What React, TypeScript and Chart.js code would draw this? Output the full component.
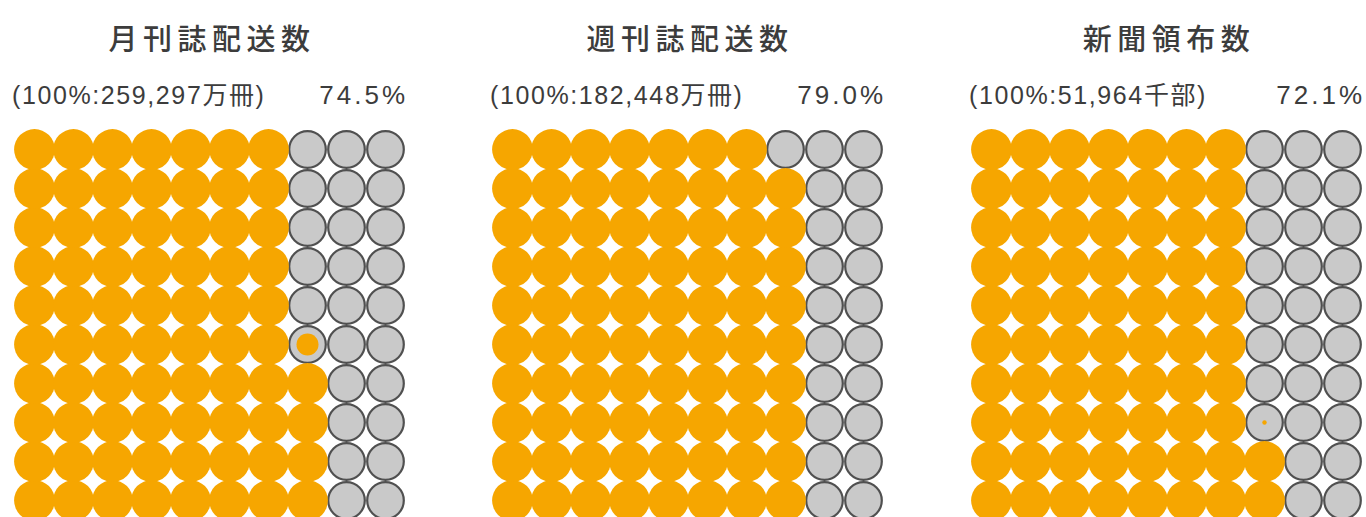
import React, { useEffect, useRef } from "react";
import { Chart, registerables } from "chart.js";

Chart.register(...registerables);

// ---- data ----
const panelTitles = ["月刊誌配送数", "週刊誌配送数", "新聞領布数"];
const totalLabels = ["(100%:259,297万冊)", "(100%:182,448万冊)", "(100%:51,964千部)"];
const shareValues = [74.5, 79.0, 72.1];
const gridColumns = 10;
const gridRows = 10;

// ---- layout / style ----
const panelLefts = [15, 493, 972];
const CELL = 39;
const PAD = 6;
const GRID_TOP = 130;
const ORANGE = "#F6A600";
const GREY = "#C9C9C9";
const GREY_EDGE = "#505050";
const TEXT = "#3c3c3c";

type Pt = { x: number; y: number };

function buildCells(value: number) {
  const full = Math.floor(value);
  const frac = value - full;
  const orange: Pt[] = [];
  const grey: Pt[] = [];
  const partial: Pt[] = [];
  for (let c = 0; c < gridColumns; c++) {
    for (let k = 0; k < gridRows; k++) {
      const idx = c * gridRows + k; // column by column, bottom up
      const p = { x: c, y: gridRows - 1 - k };
      if (idx < full) orange.push(p);
      else {
        grey.push(p);
        if (idx === full && frac > 0.001) partial.push(p);
      }
    }
  }
  return { orange, grey, partial, frac };
}

function Waffle({ value, left }: { value: number; left: number }) {
  const ref = useRef<HTMLCanvasElement | null>(null);
  useEffect(() => {
    if (!ref.current) return;
    const { orange, grey, partial, frac } = buildCells(value);
    const chart = new Chart(ref.current, {
      type: "scatter",
      data: {
        datasets: [
          {
            data: partial,
            order: 0,
            pointRadius: Math.max(1.5, frac * 22),
            backgroundColor: ORANGE,
            borderWidth: 0,
            clip: false as any,
          },
          {
            data: orange,
            order: 1,
            pointRadius: 20.4,
            backgroundColor: ORANGE,
            borderWidth: 0,
            clip: false as any,
          },
          {
            data: grey,
            order: 2,
            pointRadius: 18.3,
            backgroundColor: GREY,
            borderColor: GREY_EDGE,
            borderWidth: 2.2,
            clip: false as any,
          },
        ],
      },
      options: {
        animation: false,
        responsive: false,
        devicePixelRatio: 1,
        events: [],
        layout: { padding: PAD, autoPadding: false },
        plugins: { legend: { display: false }, tooltip: { enabled: false } },
        scales: {
          x: { type: "linear", min: -0.5, max: gridColumns - 0.5, display: false },
          y: { type: "linear", min: -0.5, max: gridRows - 0.5, display: false, reverse: true },
        },
      },
    });
    return () => chart.destroy();
  }, [value]);
  return (
    <canvas
      ref={ref}
      width={gridColumns * CELL + PAD * 2}
      height={gridRows * CELL + PAD * 2}
      style={{ position: "absolute", left: left - PAD, top: GRID_TOP - PAD }}
    />
  );
}

const latin = "'Liberation Sans', 'Noto Sans CJK JP', sans-serif";

export default function App() {
  const gw = gridColumns * CELL;
  return (
    <div
      style={{
        position: "fixed",
        left: 0,
        top: 0,
        width: 1366,
        height: 517,
        overflow: "hidden",
        background: "#ffffff",
      }}
    >
      {shareValues.map((v, i) => {
        const left = panelLefts[i];
        return (
          <React.Fragment key={i}>
            <div
              style={{
                position: "absolute",
                left: left + 2,
                width: gw,
                top: 18,
                textAlign: "center",
                fontFamily: "'Noto Sans CJK JP', sans-serif",
                fontSize: 29,
                fontWeight: 500,
                letterSpacing: 5.5,
                color: TEXT,
                lineHeight: "38px",
                whiteSpace: "nowrap",
              }}
            >
              {panelTitles[i]}
            </div>
            <div
              style={{
                position: "absolute",
                left: left - 3,
                top: 80,
                fontFamily: latin,
                fontSize: 25,
                letterSpacing: 1.6,
                color: TEXT,
                lineHeight: "30px",
                whiteSpace: "nowrap",
              }}
            >
              {totalLabels[i]}
            </div>
            <div
              style={{
                position: "absolute",
                left: left + gw - 200,
                width: 203,
                top: 80,
                textAlign: "right",
                fontFamily: latin,
                fontSize: 26,
                letterSpacing: 3,
                color: TEXT,
                lineHeight: "30px",
                whiteSpace: "nowrap",
              }}
            >
              {v.toFixed(1)}%
            </div>
            <Waffle value={v} left={left} />
          </React.Fragment>
        );
      })}
    </div>
  );
}
